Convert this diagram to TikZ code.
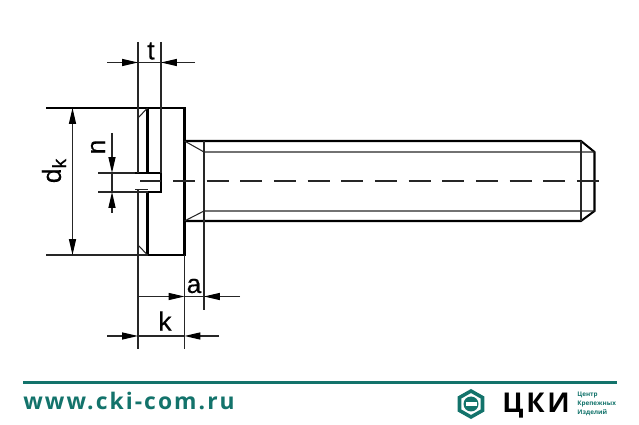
\documentclass[tikz,border=0pt]{standalone}
\usepackage{fontspec}
\usepackage{xcolor}
\setmainfont{Open Sans}
\newfontfamily\labelfont[FakeBold=0.4]{Liberation Sans}
\newfontfamily\urlfont[LetterSpace=9]{Open Sans}
\newfontfamily\logofont[LetterSpace=10]{Open Sans}
\definecolor{ckiteal}{HTML}{13736B}
\usetikzlibrary{arrows.meta}
\tikzset{
	thinline/.style = {line width=0.6pt, black!85},
	thickline/.style = {line width=1.15pt, black},
	dimline/.style = {thinline, -{Triangle[length=9pt,width=4pt,black]}},
	dimlabel/.style = {font=\labelfont\fontsize{15}{17}\selectfont, inner sep=0pt}
}

\begin{document}
\begin{tikzpicture}[x=0.02cm,y=-0.02cm]
	\useasboundingbox (0,0) rectangle (639,425);
	\coordinate (HL) at (147.5,108);
	\coordinate (HR) at (184.5,108);
	\coordinate (BL) at (147.5,255);
	\coordinate (BR) at (184.5,255);
	\coordinate (ST) at (184.5,141);
	\coordinate (SB) at (184.5,221);
	\coordinate (ET) at (581,141);
	\coordinate (EB) at (581,221);
	\coordinate (FT) at (594.5,152);
	\coordinate (FB) at (594.5,211);
	\coordinate (TT) at (204,152);
	\coordinate (TB) at (204,211);
	% screw outline
	\draw[thickline] (46,108) -- (HR) -- (BR) -- (BL);
	\draw[thickline] (HL) -- (147.5,173) -- (135,173);
	\draw[thickline] (147.5,173) -- (161,173) -- (161,192) -- (147.5,192) -- (BL);
	\draw[thickline] (ST) -- (ET) -- (FT) -- (FB) -- (EB) -- (SB);
	% thin lines of the head and the thread
	\draw[thinline] (HL) -- (138,118);
	\draw[thinline] (BL) -- (138,245);
	\draw[thinline] (ST) -- (TT) -- (FT);
	\draw[thinline] (SB) -- (TB) -- (FB);
	\draw[thinline] (ET) -- (EB);
	\draw[thinline] (204,141) -- (204,310);
	\draw[thinline] (135,189.5) -- (147.5,189.5);
	\draw[thinline] (140,181) -- (161,181);
	\draw[thinline, dash pattern=on 12.5pt off 6.66pt] (173,181) -- (599,181);
	% extension lines
	\draw[thinline] (138,42) -- (138,173);
	\draw[thinline] (138,189.5) -- (138,349);
	\draw[thinline] (161,42) -- (161,173);
	\draw[thinline] (184.5,255) -- (184.5,349);
	\draw[thinline] (46,255) -- (BL);
	\draw[thinline] (98,173) -- (135,173);
	\draw[thinline] (98,192) -- (147.5,192);
	% dimensions
	\draw[dimline] (107,62.5) -- (138,62.5);
	\draw[dimline] (195,62.5) -- (161,62.5);
	\draw[thinline] (138,62.5) -- (161,62.5);
	\draw[dimline] (72.5,181) -- (72.5,108);
	\draw[dimline] (72.5,181) -- (72.5,255);
	\draw[dimline] (112,133) -- (112,173);
	\draw[dimline] (112,213) -- (112,192);
	\draw[thinline] (112,173) -- (112,192);
	\draw[dimline] (138,296.5) -- (184.5,296.5);
	\draw[dimline] (240,296.5) -- (204,296.5);
	\draw[thinline] (184.5,296.5) -- (204,296.5);
	\draw[dimline] (107,336) -- (138,336);
	\draw[dimline] (219,336) -- (184.5,336);
	\draw[thinline] (138,336) -- (184.5,336);
	\node[dimlabel] (t) at (151,51) {t};
	\node[dimlabel] (k) at (165,321) {k};
	\node[dimlabel] (a) at (194,286) {a};
	\node[dimlabel, rotate=90] (n) at (98,147) {n};
	\node[dimlabel, rotate=90] (dk) at (54,171) {d\raisebox{-3pt}{\fontsize{11}{12}\selectfont k}};
	% footer
	\draw[ckiteal, line width=1.7pt] (23,382.5) -- (617,382.5);
	\node[anchor=base west, inner sep=0pt, ckiteal, font=\urlfont\bfseries\fontsize{13}{15}\selectfont] (url) at (23,410) {www.cki-com.ru};
	\draw[ckiteal, line width=2pt, fill=white] (471,391) -- (482.5,397.5) -- (482.5,410.5) -- (471,417) -- (459.5,410.5) -- (459.5,397.5) -- cycle;
	\fill[ckiteal] (471,404) circle (7.5);
	\fill[white] (465.5,402.4) rectangle (476.5,405.6);
	\node[anchor=base west, inner sep=0pt, font=\logofont\bfseries\fontsize{15.5}{17}\selectfont] (logo) at (502,413) {ЦКИ};
	\node[anchor=north west, inner sep=0pt, ckiteal, align=left, font=\bfseries\fontsize{3.6}{5}\selectfont] (sub) at (577,392) {Центр\\Крепежных\\Изделий};
\end{tikzpicture}
\end{document}
